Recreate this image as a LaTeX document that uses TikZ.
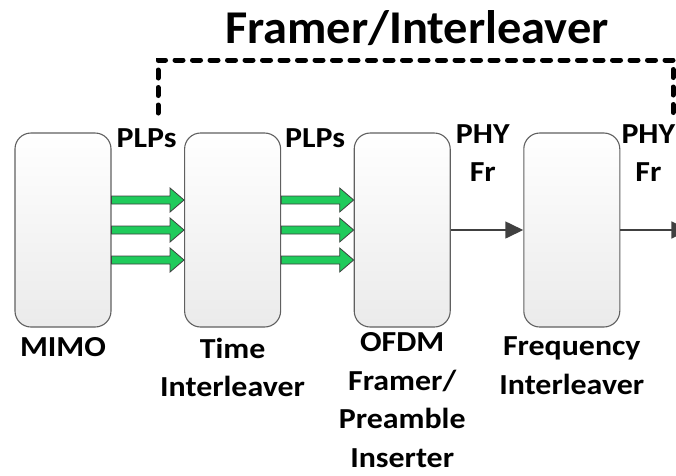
\documentclass[tikz,border=0pt]{standalone}
\usepackage{fontspec}
\setmainfont{Carlito}[FakeStretch=1.1]
\newfontfamily\titlefont{Carlito}[FakeStretch=1.03]
\usetikzlibrary{positioning,arrows.meta,calc}

\definecolor{plpgreen}{HTML}{1FCB5B}
\definecolor{edgegray}{HTML}{404040}
\definecolor{boxline}{HTML}{606060}

\begin{document}
\begin{tikzpicture}[
    x=1pt, y=1pt,
    node distance=72.5pt,
    block/.style={
      rectangle, rounded corners=16pt, draw=boxline, line width=1.1pt,
      top color=white, bottom color=black!8,
      minimum width=96pt, minimum height=194pt, inner sep=0pt
    },
    lbl/.style={font=\fontsize{29}{38.5}\selectfont\bfseries, align=center, inner sep=0pt},
    toplbl/.style={lbl, anchor=base},
    botlbl/.style={lbl, execute at begin node=\strut},
    plp/.style={draw=edgegray, line width=0.8pt, fill=plpgreen,
      to path={let \p1=(\tikztostart), \p2=(\tikztotarget) in
        (\x1,\y1+4pt) -- (\x2-14pt,\y1+4pt) -- (\x2-14pt,\y1+12pt) -- (\x2,\y1)
        -- (\x2-14pt,\y1-12pt) -- (\x2-14pt,\y1-4pt) -- (\x1,\y1-4pt) -- cycle}},
    phyarrow/.style={-{Triangle[length=18pt,width=17pt]}, draw=edgegray, line width=1.6pt},
    groupline/.style={line width=5pt, line cap=round, dash pattern=on 8pt off 9.5pt}
  ]
  \useasboundingbox (0,0) rectangle (676,-475);
  \clip (0,0) rectangle (676,-475);
  % processing chain
  \node[block] (mimo) at (63,-230) {};
  \node[block, right=of mimo] (tint) {};
  \node[block, right=of tint] (ofdm) {};
  \node[block, right=of ofdm] (fint) {};
  \node[botlbl, below=2pt of mimo] (mimo_lbl) {MIMO};
  \node[botlbl, below=10pt of tint] (tint_lbl) {Time\\Interleaver};
  \node[botlbl, below=5pt of ofdm] (ofdm_lbl) {OFDM\\Framer/\\Preamble\\Inserter};
  \node[botlbl, below=9pt of fint] (fint_lbl) {Frequency\\Interleaver};
  % PLP streams
  \foreach \dy in {30,0,-30} {
    \draw[plp] ([yshift=\dy pt]mimo.east) to ([yshift=\dy pt]tint.west);
    \draw[plp] ([yshift=\dy pt]tint.east) to ([yshift=\dy pt]ofdm.west);
  }
  \node[toplbl] (plps_a) at ([xshift=35pt,yshift=-15pt]mimo.north east) {PLPs};
  \node[toplbl] (plps_b) at ([xshift=34pt,yshift=-15pt]tint.north east) {PLPs};
  % PHY frames
  \coordinate[right=69pt of fint.east] (fout);
  \draw[phyarrow] (ofdm.east) -- (fint.west);
  \draw[phyarrow] (fint.east) -- (fout);
  \node[lbl, anchor=north] (phy_a) at ([xshift=32pt,yshift=8pt]ofdm.north east) {PHY\\Fr};
  \node[lbl, anchor=north] (phy_b) at ([xshift=28pt,yshift=8pt]fint.north east) {PHY\\Fr};
  % framer/interleaver group
  \coordinate (grp_a) at (158,-113);
  \coordinate (grp_b) at (673,-113);
  \draw[groupline] (grp_a) -- ++(0,53) -| (grp_b);
  \node[font=\titlefont\fontsize{47}{56}\selectfont\bfseries, anchor=base, inner sep=0pt] (title) at (417,-43) {Framer/Interleaver};
\end{tikzpicture}
\end{document}
